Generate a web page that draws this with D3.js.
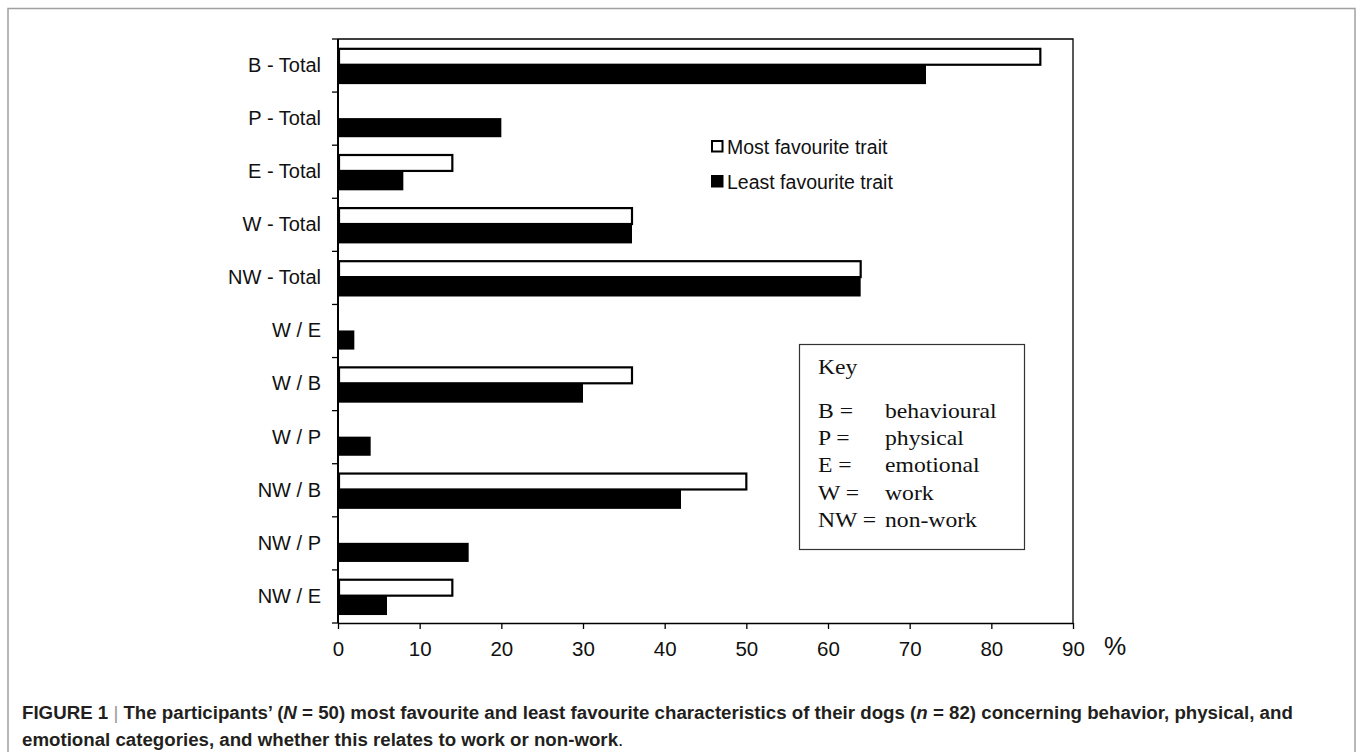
<!DOCTYPE html>
<html>
<head>
<meta charset="utf-8">
<script src="https://cdn.jsdelivr.net/npm/d3@7"></script>
<style>
  html, body { margin: 0; padding: 0; background: #fff; }
  svg { display: block; }
</style>
</head>
<body>
<svg id="chart" width="1357" height="752"></svg>
<script>
// ---- data ----
const categories = ["B - Total", "P - Total", "E - Total", "W - Total", "NW - Total",
                    "W / E", "W / B", "W / P", "NW / B", "NW / P", "NW / E"];
const mostFavourite  = [86, 0, 14, 36, 64, 0, 36, 0, 50, 0, 14];
const leastFavourite = [72, 20, 8, 36, 64, 2, 30, 4, 42, 16, 6];
const xTicks = [0, 10, 20, 30, 40, 50, 60, 70, 80, 90];
const seriesNames = ["Most favourite trait", "Least favourite trait"];
const keyCodes = ["B =", "P =", "E =", "W =", "NW ="];
const keyMeanings = ["behavioural", "physical", "emotional", "work", "non-work"];

(function () {
const svg = d3.select("#chart");
const sans = "'Liberation Sans', Arial, sans-serif";
const serif = "'Liberation Serif', 'Times New Roman', serif";

// outer figure frame
svg.append("rect").attr("x", 8).attr("y", 8.5).attr("width", 1347).attr("height", 760)
  .attr("fill", "none").attr("stroke", "#a0a0a0").attr("stroke-width", 1.5);

const pLeft = 338, pRight = 1073, pTop = 39, pBottom = 623;
const x = d3.scaleLinear().domain([0, 90]).range([pLeft, pRight]);
const y = d3.scaleBand().domain(categories).range([pTop, pBottom]).paddingInner(0).paddingOuter(0);
const bw = y.bandwidth();

const rows = categories.map((c, i) => ({ c, most: mostFavourite[i], least: leastFavourite[i] }));

// plot frame (top + right)
svg.append("path")
  .attr("d", `M${pLeft},${pTop}H${pRight}V${pBottom}`)
  .attr("fill", "none").attr("stroke", "#000").attr("stroke-width", 1.3);

// bars
const g = svg.append("g");
g.selectAll("rect.least").data(rows).join("rect").attr("class", "least")
  .attr("x", x(0)).attr("y", d => y(d.c) + bw * 0.49)
  .attr("width", d => x(d.least) - x(0)).attr("height", bw * 0.36)
  .attr("fill", "#000");
g.selectAll("rect.most").data(rows.filter(d => d.most > 0)).join("rect").attr("class", "most")
  .attr("x", x(0) + 1).attr("y", d => y(d.c) + bw * 0.185)
  .attr("width", d => x(d.most) - x(0) - 1).attr("height", bw * 0.3)
  .attr("fill", "#fff").attr("stroke", "#000").attr("stroke-width", 2.2);

// x axis
const xAxis = svg.append("g").attr("transform", `translate(0,${pBottom})`)
  .call(d3.axisBottom(x).tickValues(xTicks).tickSize(6).tickPadding(12).tickSizeOuter(0));
xAxis.select(".domain").attr("stroke", "#000").attr("stroke-width", 1.6);
xAxis.selectAll(".tick line").attr("stroke", "#000").attr("stroke-width", 1.3);
xAxis.selectAll(".tick text").attr("font-family", sans).attr("font-size", 20.5).attr("fill", "#111");

svg.append("text").attr("x", 1104).attr("y", 655)
  .attr("font-family", sans).attr("font-size", 25).attr("fill", "#111").text("%");

// y axis labels
const yAxis = svg.append("g").attr("transform", `translate(${pLeft},0)`)
  .call(d3.axisLeft(y).tickSize(0).tickPadding(17));
yAxis.select(".domain").remove();
yAxis.selectAll(".tick text").attr("font-family", sans).attr("font-size", 20).attr("fill", "#111");

// y axis line and boundary ticks
const bounds = categories.map(c => y(c)).concat([y.range()[1]]);
svg.append("line").attr("x1", pLeft).attr("x2", pLeft).attr("y1", pTop).attr("y2", pBottom)
  .attr("stroke", "#000").attr("stroke-width", 2);
svg.append("g").selectAll("line").data(bounds).join("line")
  .attr("x1", pLeft - 6).attr("x2", pLeft).attr("y1", d => d).attr("y2", d => d)
  .attr("stroke", "#000").attr("stroke-width", 1.3);

// legend
const leg = svg.append("g");
seriesNames.forEach((name, i) => {
  const ly = 141 + i * 35;
  leg.append("rect").attr("x", 712).attr("y", ly).attr("width", 10.5).attr("height", 10.5)
    .attr("fill", i === 0 ? "#fff" : "#000").attr("stroke", "#000").attr("stroke-width", 2);
  leg.append("text").attr("x", 727).attr("y", ly + 12.5)
    .attr("font-family", sans).attr("font-size", 19.5).attr("fill", "#111").text(name);
});

// key box
const key = svg.append("g");
key.append("rect").attr("x", 799.5).attr("y", 344.5).attr("width", 225).attr("height", 205)
  .attr("fill", "#fff").attr("stroke", "#333").attr("stroke-width", 1.2);
function keyText(tx, ty, s) {
  key.append("text").attr("transform", `translate(${tx},${ty}) scale(1.1,1)`)
    .attr("font-family", serif).attr("font-size", 21.5).attr("fill", "#111").text(s);
}
keyText(818, 374, "Key");
keyCodes.forEach((k, i) => {
  const ky = 418 + i * 27.2;
  keyText(818, ky, k);
  keyText(885, ky, keyMeanings[i]);
});

// caption
const cap = svg.append("g").attr("font-family", sans).attr("font-weight", "bold")
  .attr("font-size", 18.7).attr("fill", "#231f20");
const t1 = cap.append("text").attr("x", 22).attr("y", 719);
t1.append("tspan").text("FIGURE 1 ");
t1.append("tspan").attr("font-weight", "normal").attr("fill", "#999").text("|");
t1.append("tspan").text(" The participants\u2019 (");
t1.append("tspan").attr("font-style", "italic").text("N");
t1.append("tspan").text(" = 50) most favourite and least favourite characteristics of their dogs (");
t1.append("tspan").attr("font-style", "italic").text("n");
t1.append("tspan").text(" = 82) concerning behavior, physical, and");
const t2 = cap.append("text").attr("x", 22).attr("y", 746);
t2.append("tspan").text("emotional categories, and whether this relates to work or non-work");
t2.append("tspan").attr("font-weight", "normal").text(".");
})();
</script>
</body>
</html>
